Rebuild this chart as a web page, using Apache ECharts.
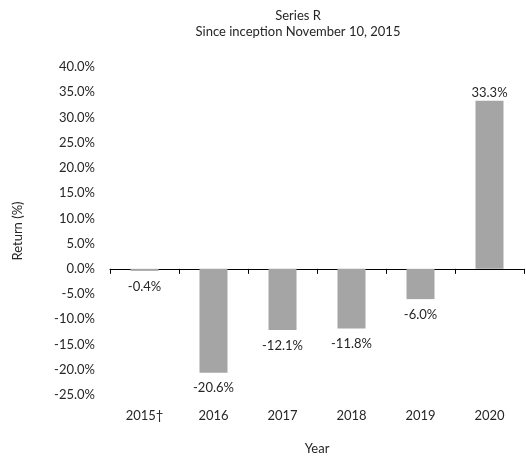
<!DOCTYPE html>
<html>
<head>
<meta charset="utf-8">
<script src="https://cdn.jsdelivr.net/npm/echarts@6/dist/echarts.min.js"></script>
<style>
  html, body { margin: 0; padding: 0; background: #fff; }
  #myChart { width: 526px; height: 457px; }
</style>
</head>
<body>
<div id="myChart"></div>
<script>
// data
var years = ['2015\u2020', '2016', '2017', '2018', '2019', '2020'];
var returns = [-0.4, -20.6, -12.1, -11.8, -6.0, 33.3];
var titleText = 'Series R';
var subText = 'Since inception November 10, 2015';

var font = 'Lato, "Open Sans", sans-serif';
var txt = '#262626';

var myChart = echarts.init(document.getElementById('myChart'));
var option = {
    backgroundColor: '#fff',
    animation: false,
    title: {
        text: titleText,
        subtext: subText,
        left: 293,
        textAlign: 'center',
        top: 4,
        itemGap: 3,
        textStyle: { fontFamily: font, fontSize: 13, fontWeight: 'normal', color: txt },
        subtextStyle: { fontFamily: font, fontSize: 13, color: txt }
    },
    grid: { left: 110, right: 2, top: 67, bottom: 62, containLabel: false, outerBoundsMode: 'none' },
    xAxis: [{
        type: 'category',
        data: years,
        axisLine: { onZero: true, lineStyle: { color: '#000', width: 1 } },
        axisTick: { show: true, length: 5, lineStyle: { color: '#000' } },
        axisLabel: { show: false }
    }, {
        type: 'category',
        data: years,
        position: 'bottom',
        axisLine: { show: false, onZero: false },
        axisTick: { show: false },
        axisLabel: { fontFamily: font, fontSize: 13, color: txt, margin: 14 },
        name: 'Year',
        nameLocation: 'middle',
        nameGap: 47,
        nameTextStyle: { fontFamily: font, fontSize: 13, color: txt }
    }],
    yAxis: {
        type: 'value',
        min: -25,
        max: 40,
        interval: 5,
        splitLine: { show: false },
        axisLine: { show: false },
        axisTick: { show: false },
        axisLabel: {
            fontFamily: font, fontSize: 13, color: txt, margin: 15,
            formatter: function (v) { return v.toFixed(1) + '%'; }
        },
        name: 'Return (%)',
        nameLocation: 'middle',
        nameRotate: 90,
        nameGap: 86,
        nameTextStyle: { fontFamily: font, fontSize: 13, color: txt }
    },
    series: [{
        type: 'bar',
        data: returns,
        xAxisIndex: 0,
        barWidth: 28,
        itemStyle: { color: '#a5a5a5' },
        label: {
            show: true,
            fontFamily: font,
            fontSize: 13,
            color: txt,
            distance: 1,
            position: 'top',
            formatter: function (p) { return p.value.toFixed(1) + '%'; }
        }
    }]
};
// negative bars get their label underneath
option.series[0].data = returns.map(function (v) {
    return v < 0 ? { value: v, label: { position: 'bottom', distance: 9 } } : v;
});
myChart.setOption(option);
</script>
</body>
</html>
